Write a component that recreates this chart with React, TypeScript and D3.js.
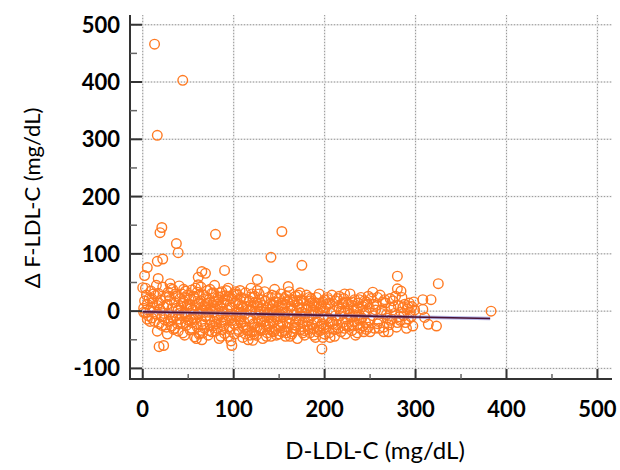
import React from 'react';
import { scaleLinear, line, range } from 'd3';

const width = 620;
const height = 470;

// axis positions (pixels) and value ranges
const left = 130;
const right = 612;
const top = 15;
const bottom = 379;

const xTicks = [0, 100, 200, 300, 400, 500];
const yTicks = [-100, 0, 100, 200, 300, 400, 500];

// outliers, [D-LDL-C, delta F-LDL-C]
const outliers = [
  [13, 466], [44, 403], [16, 307], [21, 146], [19, 137], [37, 118], [80, 134], [153, 139],
  [39, 102], [16, 87], [22, 91], [5, 76], [2, 62], [65, 69], [61, 59], [69, 66], [90, 71],
  [0, 41], [17, 57], [16, -35], [18, -62], [23, -60], [98, -60], [141, 94], [175, 80],
  [126, 55], [160, 43], [197, -66], [121, -51],
];

const rightTail = [
  [280, 61], [325, 48], [280, 39], [284, 35], [253, 33], [308, 20], [317, 20], [292, 8],
  [308, 3], [383, 0], [310, -11], [314, -23], [323, -26], [272, 22], [265, -28],
];

// main cloud, split by D-LDL-C band
const band0to25 = [
  [1, 5], [2, 18], [3, -3], [4, 28], [5, 12], [6, -8], [7, 22], [8, 2], [9, 35], [10, -12],
  [11, 15], [12, 6], [13, -18], [14, 27], [15, -5], [16, 10], [17, 31], [18, -22], [19, 3],
  [20, 19], [21, -10], [22, 42], [23, 8], [24, -15], [25, 24], [3, 40], [8, -18], [12, 30],
  [18, 14], [21, -25], [5, -14], [10, 22], [15, 45], [23, -4], [1, -2],
];

const band25to50 = [
  [26, -28], [27, 12], [28, 33], [29, -6], [30, 20], [31, -17], [32, 4], [33, 38], [34, -32],
  [35, 15], [36, -9], [37, 26], [38, -22], [39, 2], [40, 44], [41, -14], [42, 9], [43, 30],
  [44, -38], [45, 17], [46, -3], [47, 35], [48, -25], [49, 11], [50, -16], [27, -40], [29, 26],
  [31, 40], [33, -12], [35, -30], [37, 5], [39, -35], [41, 22], [43, -8], [45, 38], [47, -20],
  [49, 28], [28, -18], [32, -26], [36, 30], [40, -4], [44, 14], [48, -10], [30, 48], [46, -42],
];

const band50to100 = [
  [51, 20], [52, -33], [53, 5], [54, 37], [55, -12], [56, 26], [57, -45], [58, 10], [59, -22],
  [60, 33], [61, -5], [62, 15], [63, -38], [64, 42], [65, -18], [66, 3], [67, 28], [68, -30],
  [69, 12], [70, -8], [71, 36], [72, -42], [73, 20], [74, -15], [75, 6], [76, 31], [77, -26],
  [78, -2], [79, 45], [80, -35], [81, 17], [82, -11], [83, 25], [84, -48], [85, 8], [86, -20],
  [87, 34], [88, -4], [89, 14], [90, -39], [91, 27], [92, -14], [93, 2], [94, 40], [95, -28],
  [96, 11], [97, -52], [98, 22], [99, -7], [100, 30], [52, 12], [54, -20], [56, -6], [58, 40],
  [60, -28], [62, -40], [64, 18], [66, -24], [68, 8], [70, 24], [72, -2], [74, 38], [76, -36],
  [78, 16], [80, 4], [82, -30], [84, 20], [86, -44], [88, 26], [90, -16], [92, 36], [94, -8],
  [96, -32], [98, 6], [100, -22], [53, -15], [57, 22], [61, 46], [65, -50], [69, -10],
  [73, -34], [77, 10], [81, -22], [85, 32], [89, -26], [93, 18], [97, -12], [55, 2], [63, -4],
  [71, 14], [79, -18], [87, 0], [95, 26], [59, -48], [83, -8],
];

const band100to150 = [
  [101, -40], [102, 15], [103, -10], [104, 28], [105, -32], [106, 4], [107, 36], [108, -20],
  [109, 10], [110, -46], [111, 22], [112, -6], [113, 32], [114, -28], [115, 2], [116, -50],
  [117, 18], [118, -14], [119, 40], [120, -36], [121, 8], [122, -22], [123, 26], [124, -4],
  [125, -42], [126, 14], [127, -16], [128, 30], [129, -30], [130, 0], [131, 20], [132, -48],
  [133, -10], [134, 34], [135, -24], [136, 6], [137, -38], [138, 24], [139, -12], [140, 12],
  [141, -44], [142, 28], [143, -20], [144, -2], [145, 38], [146, -32], [147, 16], [148, -8],
  [149, -26], [150, 22], [102, -24], [104, -2], [106, -36], [108, 24], [110, 6], [112, -30],
  [114, 20], [116, -12], [118, 2], [120, 30], [122, -40], [124, 16], [126, -28], [128, -6],
  [130, -34], [132, 10], [134, -18], [136, -44], [138, -2], [140, -22], [142, 4], [144, -36],
  [146, 26], [148, -14], [150, -40], [103, 30], [107, -8], [111, -18], [115, -34], [119, 0],
  [123, -28], [127, 8], [131, -14], [135, 18], [139, -32], [143, 10], [147, -42], [105, 12],
  [113, -40], [121, 24], [129, 14], [137, -6], [145, -10], [149, 8],
];

const band150to200 = [
  [151, -18], [152, 30], [153, -36], [154, 4], [155, -10], [156, 22], [157, -44], [158, -2],
  [159, 16], [160, -28], [161, 34], [162, -14], [163, 8], [164, -40], [165, 20], [166, -6],
  [167, -24], [168, 26], [169, 0], [170, -48], [171, 12], [172, -16], [173, 32], [174, -32],
  [175, 6], [176, -20], [177, 18], [178, -42], [179, -4], [180, 28], [181, -26], [182, 10],
  [183, -12], [184, -38], [185, 22], [186, -8], [187, 2], [188, -30], [189, 14], [190, -46],
  [191, 24], [192, -18], [193, -2], [194, 30], [195, -34], [196, 8], [197, -22], [198, 16],
  [199, -10], [200, -40], [152, -26], [154, 14], [156, -34], [158, 26], [160, -6], [162, -44],
  [164, 2], [166, 16], [168, -30], [170, -12], [172, 6], [174, 20], [176, -38], [178, -10],
  [180, 4], [182, -32], [184, 18], [186, -24], [188, 10], [190, -4], [192, -36], [194, 12],
  [196, -26], [198, 0], [200, 20], [153, 10], [159, -20], [165, -36], [171, 28], [177, -28],
  [183, 24], [189, -20], [195, 4], [199, -30], [157, 12], [175, -2],
];

const band200to250 = [
  [201, 6], [202, -28], [203, 24], [204, -12], [205, -38], [206, 14], [207, -4], [208, 28],
  [209, -22], [210, 0], [211, -44], [212, 18], [213, -16], [214, 8], [215, -30], [216, 26],
  [217, -8], [218, -36], [219, 12], [220, -20], [221, 22], [222, -2], [223, -40], [224, 16],
  [225, -14], [226, 4], [227, -26], [228, 30], [229, -10], [230, -34], [231, 10], [232, -18],
  [233, 20], [234, -42], [235, 2], [236, -24], [237, 14], [238, -6], [239, -30], [240, 24],
  [241, -12], [242, 8], [243, -36], [244, 18], [245, -20], [246, -2], [247, 12], [248, -28],
  [249, 6], [250, -16], [204, 20], [208, -18], [212, -32], [216, 4], [220, 14], [224, -26],
  [228, -6], [232, 2], [236, -38], [240, -14], [244, -4], [248, 26], [206, -46], [214, -24],
  [222, 30], [230, 16], [238, -16], [246, -32],
];

const band250to300 = [
  [251, 22], [253, -8], [255, -30], [257, 10], [259, -18], [261, 28], [263, 2], [265, -36],
  [267, 14], [269, -12], [271, -24], [273, 6], [275, 18], [277, -4], [279, -28], [281, 10],
  [283, -16], [285, 24], [287, -8], [289, -20], [291, 4], [293, 14], [295, -10], [297, -26],
  [299, 2], [254, 12], [258, -22], [262, -4], [266, 20], [270, -36], [274, -14], [278, 26],
  [282, -10], [286, 6], [290, -30], [294, -2], [298, 16],
];

// extra points where the cloud is densest
const denseCore = [
  [42, -20], [46, 24], [50, 8], [54, -30], [58, -12], [62, 28], [66, -38], [70, 2], [74, -24],
  [78, 32], [82, 12], [86, -6], [90, 20], [94, -44], [98, -16], [102, 34], [106, -14], [110, -26],
  [114, 8], [118, -42], [122, 14], [126, 36], [130, -18], [134, -2], [138, -26], [142, -34],
  [146, 4], [150, -4], [154, -22], [158, -38], [162, 20], [166, -30], [170, 18], [174, -8],
  [178, -34], [182, -18], [186, 14], [190, 8], [194, -28], [198, -46], [202, 12], [206, -20],
  [210, -32], [214, 22], [218, 0], [222, -30], [226, 12], [230, -24], [234, -8], [238, 20],
  [242, -26], [246, 16], [250, -36], [256, 2], [260, -30], [264, 16], [268, -6], [272, -16],
  [276, 8], [280, -20], [284, -2], [288, 12], [292, -14], [296, 8], [64, 6], [88, -32],
  [108, -2], [124, -34], [144, 16], [168, -18], [188, -42], [212, -8], [236, 6], [258, 24],
];

// fitted line end points
const fitX = [0, 382];
const fitY = [-1, -13];

const allPoints = [
  ...band0to25, ...band25to50, ...band50to100, ...band100to150,
  ...band150to200, ...band200to250, ...band250to300, ...denseCore, ...rightTail, ...outliers,
];

const tickFont = 'Lato, "DejaVu Sans", sans-serif';

export default function App() {
  const x = scaleLinear().domain([-14, 516]).range([left, right]);
  const y = scaleLinear().domain([-118.5, 517]).range([bottom, top]);

  const fitLine = line<number>()
    .x((d) => x(fitX[d]))
    .y((d) => y(fitY[d]));

  const xMinor = range(50, 501, 100);
  const yMinor = range(-50, 501, 100);

  return (
    <svg width={width} height={height} style={{ position: 'absolute', left: 0, top: 0 }}>
      <rect width={width} height={height} fill="#fff" />

      {/* grid */}
      <g fill="none">
        {xTicks.map((t) => (
          <g key={'gx' + t}>
            <line x1={x(t)} x2={x(t)} y1={top} y2={bottom} stroke="#e4e4e4" strokeWidth={1.5} />
            <line x1={x(t)} x2={x(t)} y1={top} y2={bottom} stroke="#999" strokeDasharray="1,2" />
          </g>
        ))}
        {yTicks.map((t) => (
          <g key={'gy' + t}>
            <line x1={left} x2={right} y1={y(t)} y2={y(t)} stroke="#e4e4e4" strokeWidth={1.5} />
            <line x1={left} x2={right} y1={y(t)} y2={y(t)} stroke="#999" strokeDasharray="1,2" />
          </g>
        ))}
      </g>

      {/* points */}
      <g fill="none" stroke="#ff7a22" strokeWidth={1.4}>
        {allPoints.map((d, i) => (
          <circle key={i} cx={x(d[0])} cy={y(d[1])} r={4.8} />
        ))}
      </g>

      {/* fitted line */}
      <path d={fitLine([0, 1]) || ''} stroke="#6b6bd0" strokeOpacity={0.5} strokeWidth={3.5} fill="none" />
      <path d={fitLine([0, 1]) || ''} stroke="#4a1235" strokeWidth={1.6} fill="none" />

      {/* axes */}
      <g stroke="#333" strokeWidth={2}>
        <line x1={left} x2={left} y1={top} y2={bottom + 1} />
        <line x1={left - 1} x2={right} y1={bottom} y2={bottom} />
        {yTicks.map((t) => (
          <line key={'ty' + t} x1={left} x2={left + 12} y1={y(t)} y2={y(t)} />
        ))}
        {yMinor.map((t) => (
          <line key={'my' + t} x1={left} x2={left + 7} y1={y(t)} y2={y(t)} strokeWidth={1.5} stroke="#666" />
        ))}
        {xTicks.map((t) => (
          <line key={'tx' + t} x1={x(t)} x2={x(t)} y1={bottom} y2={bottom - 10} />
        ))}
        {xMinor.map((t) => (
          <line key={'mx' + t} x1={x(t)} x2={x(t)} y1={bottom} y2={bottom - 5} strokeWidth={1.5} stroke="#666" />
        ))}
      </g>

      {/* tick labels */}
      <g fontFamily={tickFont} fontSize={22} fontWeight={700} fill="#000">
        {yTicks.map((t) => (
          <text key={'ly' + t} x={120} y={y(t) + 8} textAnchor="end">{t}</text>
        ))}
        {xTicks.map((t) => (
          <text key={'lx' + t} x={x(t)} y={417} textAnchor="middle">{t}</text>
        ))}
      </g>

      {/* axis titles */}
      <text x={375} y={459} textAnchor="middle" fontFamily={tickFont} fontSize={24} fill="#000">
        D-LDL-C (mg/dL)
      </text>
      <text
        transform="translate(40,198) rotate(-90)"
        textAnchor="middle"
        fontFamily={tickFont}
        fontSize={22}
        fill="#000"
      >
        Δ F-LDL-C (mg/dL)
      </text>
    </svg>
  );
}
